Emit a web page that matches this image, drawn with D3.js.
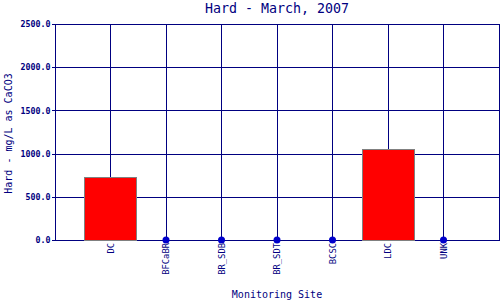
<!DOCTYPE html>
<html>
<head>
<meta charset="utf-8">
<script src="https://cdn.jsdelivr.net/npm/d3@7"></script>
<style>
  html, body { margin: 0; padding: 0; background: #fff; }
  svg { display: block; }
  line, rect { shape-rendering: crispEdges; }
</style>
</head>
<body>
<div id="chart"></div>
<script>
'use strict';

// Daten: Monatswerte Härte je Messstelle
const sites = ['DC', 'BFCaBR', 'BR_SDB', 'BR_SDT', 'BCSC', 'LDC', 'UNK'];
const hardness = [725, 0, 0, 0, 0, 1052, 0];
const yTicks = [0, 500, 1000, 1500, 2000, 2500];

const width = 500, height = 300;
const margin = { top: 24, right: 1, bottom: 60, left: 55 };
const navy = '#000080';
const font = 'DejaVu Sans Mono, monospace';

const svg = d3.select('#chart').append('svg')
  .attr('width', width).attr('height', height);

const x = d3.scalePoint()
  .domain(sites)
  .range([margin.left, width - margin.right])
  .padding(1);

const y = d3.scaleLinear()
  .domain([0, 2500])
  .range([height - margin.bottom, margin.top]);

// Gitter
svg.append('g').selectAll('line.h')
  .data(yTicks)
  .join('line')
    .attr('x1', margin.left).attr('x2', width - margin.right)
    .attr('y1', d => y(d) + 0.5).attr('y2', d => y(d) + 0.5)
    .attr('stroke', navy).attr('stroke-width', 1);

svg.append('g').selectAll('line.v')
  .data(sites)
  .join('line')
    .attr('x1', d => x(d)).attr('x2', d => x(d))
    .attr('y1', y(0)).attr('y2', y(2500))
    .attr('stroke', navy).attr('stroke-width', 1);

// Rahmen
svg.append('rect')
  .attr('x', margin.left).attr('y', margin.top + 0.5)
  .attr('width', width - margin.right - margin.left)
  .attr('height', y(0) - margin.top)
  .attr('fill', 'none').attr('stroke', navy).attr('stroke-width', 1);

// Balken (nur Werte > 0), sonst Punkt
const barW = 52;
const data = sites.map((s, i) => ({ site: s, value: hardness[i] }));

svg.append('g').selectAll('rect')
  .data(data.filter(d => d.value > 0))
  .join('rect')
    .attr('x', d => x(d.site) - barW / 2)
    .attr('y', d => y(d.value))
    .attr('width', barW)
    .attr('height', d => y(0) - y(d.value))
    .attr('fill', '#ff0000')
    .attr('stroke', '#808080').attr('stroke-width', 1);

svg.append('g').selectAll('circle')
  .data(data.filter(d => d.value === 0))
  .join('circle')
    .attr('cx', d => x(d.site))
    .attr('cy', d => y(d.value))
    .attr('r', 3.5)
    .attr('fill', '#0000cc');

// Y-Achse
const yAxis = svg.append('g')
  .attr('transform', `translate(${margin.left},0)`)
  .call(d3.axisLeft(y).tickValues(yTicks).tickSize(3).tickFormat(d3.format('.1f')));
yAxis.select('.domain').remove();
yAxis.selectAll('line').attr('stroke', navy);
yAxis.selectAll('text')
  .attr('fill', navy)
  .attr('font-family', font)
  .attr('font-size', 8.3)
  .attr('font-weight', 'bold')
  .attr('x', -4.5);

// X-Achse (gedrehte Labels)
const xAxis = svg.append('g')
  .attr('transform', `translate(0,${y(0)})`)
  .call(d3.axisBottom(x).tickSize(0));
xAxis.select('.domain').remove();
xAxis.selectAll('text')
  .attr('fill', navy)
  .attr('font-family', font)
  .attr('font-size', 8.8)
  .attr('transform', 'rotate(-90)')
  .attr('x', -3).attr('y', 0).attr('dy', '0.32em')
  .attr('text-anchor', 'end');

// Titel und Achsentitel
svg.append('text')
  .attr('x', 277).attr('y', 13)
  .attr('text-anchor', 'middle')
  .attr('font-family', font).attr('font-size', 13.3)
  .attr('fill', navy)
  .text('Hard - March, 2007');

svg.append('text')
  .attr('x', 277).attr('y', 298)
  .attr('text-anchor', 'middle')
  .attr('font-family', font).attr('font-size', 10)
  .attr('fill', navy)
  .text('Monitoring Site');

svg.append('text')
  .attr('transform', 'translate(11.5,133.5) rotate(-90)')
  .attr('text-anchor', 'middle')
  .attr('font-family', font).attr('font-size', 10)
  .attr('fill', navy)
  .text('Hard - mg/L as CaCO3');
</script>
</body>
</html>
